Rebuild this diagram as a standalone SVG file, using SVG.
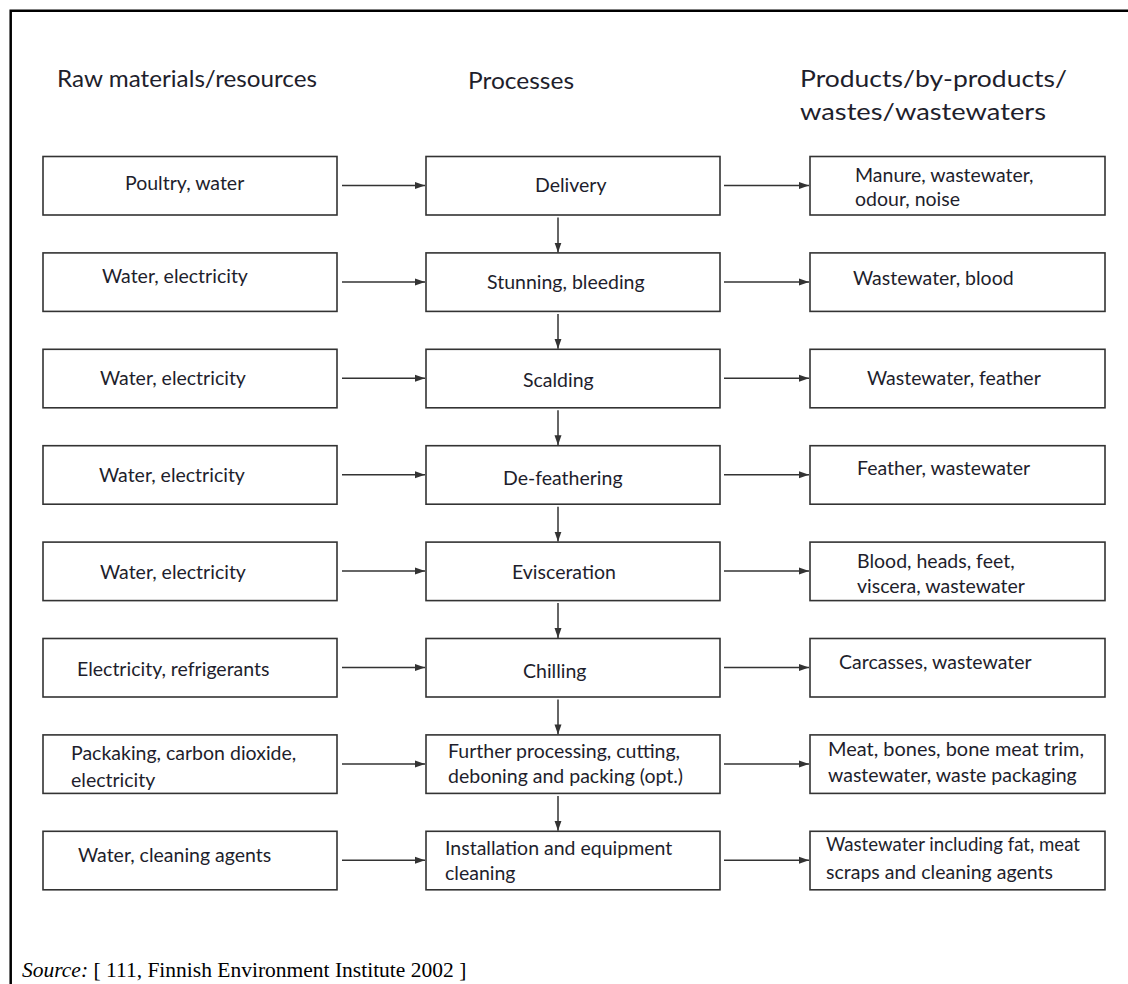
<svg xmlns="http://www.w3.org/2000/svg" width="1128" height="984" viewBox="0 0 1128 984">
<defs>
<style>
.box{fill:#fff;stroke:#333;stroke-width:1.6}
.t{font-family:Lato,"Open Sans","Liberation Sans",sans-serif;font-size:19.5px;fill:#1e1e2c}
.h{font-family:Lato,"Open Sans","Liberation Sans",sans-serif;font-size:24px;fill:#1e1e2c}
.c{stroke:#333;stroke-width:1.5;fill:none;marker-end:url(#ah)}
.frame{stroke:#000;stroke-width:2.5;fill:none}
.src{font-family:"Liberation Serif","Times New Roman",serif;font-size:21.5px;fill:#000}
</style>
<marker id="ah" viewBox="0 0 10 8" refX="10" refY="4" markerWidth="10" markerHeight="8" markerUnits="userSpaceOnUse" orient="auto">
<path d="M0,0.5 L10,4 L0,7.5 Z" fill="#333"/>
</marker>
</defs>
<rect width="1128" height="984" fill="#fff"/>
<path class="frame" d="M10.7,984 V10.7 H1128"/>

<g id="headers">
<text class="h" x="57" y="87" textLength="260" lengthAdjust="spacingAndGlyphs">Raw materials/resources</text>
<text class="h" x="468" y="89" textLength="106" lengthAdjust="spacingAndGlyphs">Processes</text>
<text class="h" x="800" y="87" textLength="267" lengthAdjust="spacingAndGlyphs">Products/by-products/</text>
<text class="h" x="800" y="120" textLength="246" lengthAdjust="spacingAndGlyphs">wastes/wastewaters</text>
</g>

<g id="connectors">
<line class="c" x1="342" y1="185.5" x2="425" y2="185.5"/>
<line class="c" x1="724" y1="185.5" x2="809" y2="185.5"/>
<line class="c" x1="342" y1="282" x2="425" y2="282"/>
<line class="c" x1="724" y1="282" x2="809" y2="282"/>
<line class="c" x1="342" y1="378.3" x2="425" y2="378.3"/>
<line class="c" x1="724" y1="378.3" x2="809" y2="378.3"/>
<line class="c" x1="342" y1="474.7" x2="425" y2="474.7"/>
<line class="c" x1="724" y1="474.7" x2="809" y2="474.7"/>
<line class="c" x1="342" y1="571.1" x2="425" y2="571.1"/>
<line class="c" x1="724" y1="571.1" x2="809" y2="571.1"/>
<line class="c" x1="342" y1="667.5" x2="425" y2="667.5"/>
<line class="c" x1="724" y1="667.5" x2="809" y2="667.5"/>
<line class="c" x1="342" y1="763.9" x2="425" y2="763.9"/>
<line class="c" x1="724" y1="763.9" x2="809" y2="763.9"/>
<line class="c" x1="342" y1="860.3" x2="425" y2="860.3"/>
<line class="c" x1="724" y1="860.3" x2="809" y2="860.3"/>
<line class="c" x1="558" y1="217.5" x2="558" y2="252.5"/>
<line class="c" x1="558" y1="314" x2="558" y2="348.8"/>
<line class="c" x1="558" y1="410.3" x2="558" y2="445.2"/>
<line class="c" x1="558" y1="506.7" x2="558" y2="541.6"/>
<line class="c" x1="558" y1="603.1" x2="558" y2="638"/>
<line class="c" x1="558" y1="699.5" x2="558" y2="734.4"/>
<line class="c" x1="558" y1="795.9" x2="558" y2="830.8"/>
</g>

<g id="r0-in"><rect class="box" x="43" y="156.5" width="294" height="58.5"/><text class="t" x="125" y="190">Poultry, water</text></g>
<g id="r0-proc"><rect class="box" x="426" y="156.5" width="294" height="58.5"/><text class="t" x="535" y="192">Delivery</text></g>
<g id="r0-out"><rect class="box" x="810" y="156.5" width="295" height="58.5"/><text class="t" x="855" y="182">Manure, wastewater,</text><text class="t" x="855" y="206">odour, noise</text></g>

<g id="r1-in"><rect class="box" x="43" y="252.9" width="294" height="58.5"/><text class="t" x="102" y="283">Water, electricity</text></g>
<g id="r1-proc"><rect class="box" x="426" y="252.9" width="294" height="58.5"/><text class="t" x="487" y="289">Stunning, bleeding</text></g>
<g id="r1-out"><rect class="box" x="810" y="252.9" width="295" height="58.5"/><text class="t" x="853" y="285">Wastewater, blood</text></g>

<g id="r2-in"><rect class="box" x="43" y="349.3" width="294" height="58.5"/><text class="t" x="100" y="385">Water, electricity</text></g>
<g id="r2-proc"><rect class="box" x="426" y="349.3" width="294" height="58.5"/><text class="t" x="523" y="387">Scalding</text></g>
<g id="r2-out"><rect class="box" x="810" y="349.3" width="295" height="58.5"/><text class="t" x="867" y="385">Wastewater, feather</text></g>

<g id="r3-in"><rect class="box" x="43" y="445.7" width="294" height="58.5"/><text class="t" x="99" y="482">Water, electricity</text></g>
<g id="r3-proc"><rect class="box" x="426" y="445.7" width="294" height="58.5"/><text class="t" x="503" y="485">De-feathering</text></g>
<g id="r3-out"><rect class="box" x="810" y="445.7" width="295" height="58.5"/><text class="t" x="857" y="475">Feather, wastewater</text></g>

<g id="r4-in"><rect class="box" x="43" y="542.1" width="294" height="58.5"/><text class="t" x="100" y="579">Water, electricity</text></g>
<g id="r4-proc"><rect class="box" x="426" y="542.1" width="294" height="58.5"/><text class="t" x="512" y="579">Evisceration</text></g>
<g id="r4-out"><rect class="box" x="810" y="542.1" width="295" height="58.5"/><text class="t" x="857" y="568">Blood, heads, feet,</text><text class="t" x="857" y="593">viscera, wastewater</text></g>

<g id="r5-in"><rect class="box" x="43" y="638.5" width="294" height="58.5"/><text class="t" x="77" y="676">Electricity, refrigerants</text></g>
<g id="r5-proc"><rect class="box" x="426" y="638.5" width="294" height="58.5"/><text class="t" x="523" y="678">Chilling</text></g>
<g id="r5-out"><rect class="box" x="810" y="638.5" width="295" height="58.5"/><text class="t" x="839" y="669">Carcasses, wastewater</text></g>

<g id="r6-in"><rect class="box" x="43" y="734.9" width="294" height="58.5"/><text class="t" x="71" y="760">Packaking, carbon dioxide,</text><text class="t" x="71" y="787">electricity</text></g>
<g id="r6-proc"><rect class="box" x="426" y="734.9" width="294" height="58.5"/><text class="t" x="448" y="758">Further processing, cutting,</text><text class="t" x="448" y="783">deboning and packing (opt.)</text></g>
<g id="r6-out"><rect class="box" x="810" y="734.9" width="295" height="58.5"/><text class="t" x="828" y="756" textLength="256" lengthAdjust="spacingAndGlyphs">Meat, bones, bone meat trim,</text><text class="t" x="828" y="782">wastewater, waste packaging</text></g>

<g id="r7-in"><rect class="box" x="43" y="831.3" width="294" height="58.5"/><text class="t" x="78" y="862">Water, cleaning agents</text></g>
<g id="r7-proc"><rect class="box" x="426" y="831.3" width="294" height="58.5"/><text class="t" x="445" y="855">Installation and equipment</text><text class="t" x="445" y="880">cleaning</text></g>
<g id="r7-out"><rect class="box" x="810" y="831.3" width="295" height="58.5"/><text class="t" x="826" y="851" textLength="254" lengthAdjust="spacingAndGlyphs">Wastewater including fat, meat</text><text class="t" x="826" y="879">scraps and cleaning agents</text></g>

<text class="src" x="22" y="977"><tspan font-style="italic">Source:</tspan> [ 111, Finnish Environment Institute 2002 ]</text>
</svg>
